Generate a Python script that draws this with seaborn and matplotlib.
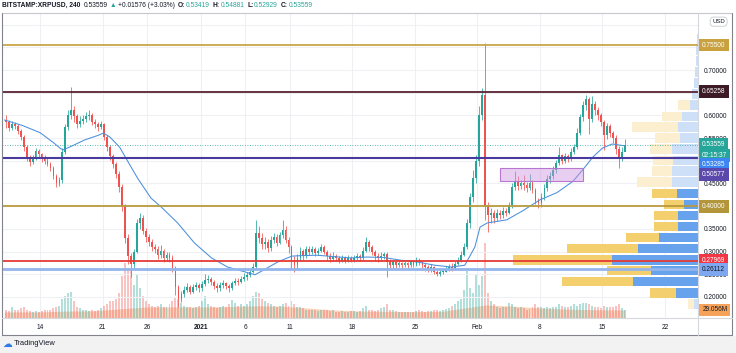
import matplotlib
matplotlib.use("Agg")
import matplotlib.pyplot as plt
import matplotlib.dates as mdates
import numpy as np
import pandas as pd
import seaborn as sns
from matplotlib.lines import Line2D
from matplotlib.patches import Rectangle
from matplotlib.transforms import blended_transform_factory, offset_copy

# ---------------------------------------------------------------- data
# 8h candles, BITSTAMP:XRPUSD, first candle starts 2020-12-10 00:00
first_open = 0.590
close = [
    0.585, 0.572, 0.580,  0.576, 0.566, 0.552,  0.530, 0.506, 0.498,  0.506, 0.522, 0.514,  # Dec 10-13
    0.505, 0.500, 0.494,  0.484, 0.466, 0.450,  0.458, 0.520, 0.575,  0.600, 0.612, 0.598,  # Dec 14-17
    0.582, 0.588, 0.592,  0.598, 0.602, 0.586,  0.580, 0.574, 0.580,  0.552, 0.530, 0.510,  # Dec 18-21
    0.492, 0.472, 0.442,  0.400, 0.330, 0.290,  0.272, 0.300, 0.362,  0.374, 0.346, 0.332,  # Dec 22-25
    0.322, 0.310, 0.305,  0.292, 0.302, 0.286,  0.292, 0.286, 0.264,  0.222, 0.195, 0.206,  # Dec 26-29
    0.216, 0.222, 0.212,  0.222, 0.226, 0.219,  0.228, 0.238, 0.240,  0.234, 0.225, 0.220,  # Dec 30-Jan 2
    0.226, 0.231, 0.224,  0.220, 0.230, 0.236,  0.234, 0.240, 0.245,  0.248, 0.256, 0.266,  # Jan 3-6
    0.342, 0.330, 0.316,  0.322, 0.308, 0.326,  0.332, 0.320, 0.336,  0.348, 0.326, 0.310,  # Jan 7-10
    0.280, 0.270, 0.286,  0.302, 0.290, 0.306,  0.300, 0.306, 0.296,  0.302, 0.310, 0.300,  # Jan 11-14
    0.290, 0.284, 0.291,  0.285, 0.280, 0.286,  0.280, 0.286, 0.281,  0.286, 0.290, 0.285,  # Jan 15-18
    0.302, 0.322, 0.310,  0.300, 0.290, 0.286,  0.290, 0.294, 0.278,  0.270, 0.276, 0.270,  # Jan 19-22
    0.275, 0.270, 0.275,  0.270, 0.276, 0.271,  0.281, 0.276, 0.270,  0.265, 0.260, 0.266,  # Jan 23-26
    0.256, 0.250, 0.255,  0.256, 0.262, 0.266,  0.264, 0.272, 0.280,  0.292, 0.310, 0.362,  # Jan 27-30
    0.420, 0.462, 0.500,  0.600, 0.645, 0.400,  0.380, 0.386, 0.374,  0.386, 0.380, 0.390,  # Jan 31-Feb 3
    0.386, 0.402, 0.442,  0.456, 0.444, 0.450,  0.446, 0.440, 0.450,  0.436, 0.412, 0.406,  # Feb 4-7
    0.420, 0.440, 0.460,  0.466, 0.480, 0.496,  0.512, 0.500, 0.510,  0.505, 0.520, 0.530,  # Feb 8-11
    0.562, 0.596, 0.622,  0.636, 0.592, 0.626,  0.612, 0.600, 0.586,  0.556, 0.576, 0.562,  # Feb 12-15
    0.550, 0.526, 0.506,  0.520, 0.53559,                                                  # Feb 16-17
]
high = [
    0.600, 0.590, 0.588,  0.586, 0.580, 0.570,  0.556, 0.534, 0.512,  0.512, 0.528, 0.526,
    0.518, 0.512, 0.506,  0.498, 0.488, 0.470,  0.464, 0.528, 0.582,  0.612, 0.663, 0.620,
    0.604, 0.598, 0.600,  0.608, 0.612, 0.606,  0.592, 0.586, 0.588,  0.584, 0.556, 0.534,
    0.516, 0.498, 0.478,  0.448, 0.405, 0.338,  0.296, 0.306, 0.372,  0.386, 0.380, 0.352,
    0.338, 0.328, 0.316,  0.312, 0.314, 0.306,  0.300, 0.298, 0.292,  0.268, 0.226, 0.214,
    0.224, 0.230, 0.226,  0.228, 0.234, 0.230,  0.236, 0.250, 0.248,  0.244, 0.238, 0.230,
    0.232, 0.238, 0.234,  0.228, 0.236, 0.242,  0.242, 0.246, 0.252,  0.256, 0.262, 0.274,
    0.370, 0.356, 0.340,  0.332, 0.328, 0.334,  0.342, 0.338, 0.344,  0.370, 0.356, 0.332,
    0.314, 0.290, 0.294,  0.310, 0.306, 0.312,  0.312, 0.312, 0.310,  0.308, 0.316, 0.314,
    0.304, 0.296, 0.298,  0.294, 0.290, 0.292,  0.290, 0.292, 0.290,  0.292, 0.296, 0.294,
    0.310, 0.332, 0.326,  0.314, 0.304, 0.296,  0.298, 0.300, 0.298,  0.284, 0.282, 0.280,
    0.280, 0.278, 0.280,  0.278, 0.282, 0.280,  0.288, 0.286, 0.280,  0.274, 0.270, 0.272,
    0.268, 0.260, 0.260,  0.262, 0.268, 0.272,  0.274, 0.280, 0.288,  0.302, 0.320, 0.372,
    0.430, 0.480, 0.512,  0.620, 0.660, 0.760,  0.410, 0.396, 0.392,  0.394, 0.392, 0.398,
    0.396, 0.410, 0.452,  0.478, 0.466, 0.458,  0.468, 0.454, 0.472,  0.458, 0.440, 0.418,
    0.428, 0.448, 0.468,  0.476, 0.488, 0.502,  0.530, 0.516, 0.518,  0.516, 0.528, 0.536,
    0.572, 0.604, 0.632,  0.646, 0.640, 0.642,  0.632, 0.618, 0.606,  0.590, 0.584, 0.580,
    0.566, 0.556, 0.532,  0.530, 0.54881,
]
low = [
    0.572, 0.566, 0.568,  0.570, 0.560, 0.545,  0.522, 0.500, 0.488,  0.494, 0.502, 0.508,
    0.498, 0.494, 0.488,  0.478, 0.460, 0.442,  0.444, 0.452, 0.515,  0.568, 0.592, 0.585,
    0.572, 0.575, 0.580,  0.585, 0.590, 0.578,  0.572, 0.566, 0.570,  0.545, 0.522, 0.502,
    0.484, 0.462, 0.432,  0.390, 0.318, 0.272,  0.244, 0.262, 0.296,  0.350, 0.338, 0.322,
    0.312, 0.302, 0.296,  0.284, 0.286, 0.278,  0.280, 0.278, 0.256,  0.205, 0.178, 0.188,
    0.200, 0.210, 0.206,  0.208, 0.216, 0.212,  0.214, 0.224, 0.230,  0.226, 0.218, 0.212,
    0.214, 0.220, 0.218,  0.210, 0.216, 0.226,  0.226, 0.230, 0.236,  0.238, 0.244, 0.252,
    0.262, 0.318, 0.306,  0.306, 0.300, 0.302,  0.318, 0.312, 0.316,  0.330, 0.318, 0.296,
    0.262, 0.255, 0.262,  0.280, 0.282, 0.286,  0.292, 0.294, 0.290,  0.292, 0.298, 0.294,
    0.282, 0.276, 0.280,  0.280, 0.274, 0.276,  0.275, 0.276, 0.276,  0.278, 0.282, 0.280,
    0.282, 0.298, 0.302,  0.292, 0.282, 0.278,  0.280, 0.284, 0.245,  0.260, 0.264, 0.264,
    0.266, 0.264, 0.266,  0.264, 0.266, 0.266,  0.268, 0.270, 0.264,  0.258, 0.254, 0.256,
    0.250, 0.246, 0.247,  0.250, 0.254, 0.258,  0.258, 0.260, 0.270,  0.276, 0.290, 0.306,
    0.352, 0.410, 0.452,  0.488, 0.590, 0.370,  0.343, 0.362, 0.364,  0.368, 0.372, 0.374,
    0.378, 0.382, 0.396,  0.436, 0.436, 0.438,  0.436, 0.432, 0.436,  0.428, 0.404, 0.396,
    0.398, 0.414, 0.434,  0.452, 0.460, 0.474,  0.490, 0.492, 0.496,  0.498, 0.500, 0.514,
    0.526, 0.556, 0.588,  0.612, 0.560, 0.586,  0.602, 0.590, 0.576,  0.524, 0.548, 0.552,
    0.540, 0.516, 0.484,  0.500, 0.52929,
]
volume_m = [
    30, 25, 40,  28, 30, 35,  40, 30, 25,  20, 25, 22,  25, 30, 28,  30, 35, 40,   # Dec 10-15
    45, 70, 80,  90, 95, 60,  40, 35, 30,  30, 25, 28,  25, 30, 35,  45, 50, 60,   # Dec 16-21
    60, 70, 90,  150, 200, 180,  170, 120, 160,  110, 80, 60,  50, 45, 40,  45, 50, 40,  # Dec 22-27
    40, 50, 60,  75, 70, 55,  45, 40, 40,  35, 40, 45,  60, 80, 50,  45, 40, 35,   # Dec 28-Jan 2
    40, 45, 40,  50, 65, 55,  45, 50, 45,  50, 60, 80,  95, 90, 70,  60, 55, 50,   # Jan 3-8
    45, 40, 45,  50, 55, 45,  60, 50, 40,  40, 35, 30,  30, 28, 30,  25, 30, 28,   # Jan 9-14
    30, 25, 28,  22, 20, 25,  22, 20, 24,  25, 22, 25,  35, 45, 30,  28, 25, 30,   # Jan 15-20
    35, 40, 50,  30, 28, 25,  22, 20, 22,  20, 22, 20,  25, 28, 25,  22, 25, 24,   # Jan 21-26
    28, 30, 25,  28, 32, 35,  45, 50, 60,  70, 100, 170,  110, 90, 160,  120, 150, 270,  # Jan 27-Feb 1
    90, 60, 50,  40, 35, 38,  40, 55, 50,  40, 35, 38,  35, 30, 32,  40, 50, 40,   # Feb 2-7
    38, 35, 40,  35, 38, 40,  50, 45, 40,  40, 45, 50,  45, 50, 55,  55, 50, 45,   # Feb 8-13
    40, 38, 35,  45, 40, 38,  40, 45, 50,  35, 30,                                  # Feb 14-17
]

# moving average line (blue)
ma_time = ["2020-12-10 00:00", "2020-12-12 00:00", "2020-12-14 00:00", "2020-12-15 12:00",
           "2020-12-16 07:00", "2020-12-16 14:00", "2020-12-17 12:00", "2020-12-19 00:00",
           "2020-12-20 12:00", "2020-12-21 02:00", "2020-12-21 19:00", "2020-12-22 22:00",
           "2020-12-23 19:00", "2020-12-24 22:00", "2020-12-26 10:00", "2020-12-27 14:00",
           "2020-12-29 10:00", "2020-12-31 07:00", "2021-01-02 05:00", "2021-01-04 00:00",
           "2021-01-06 00:00", "2021-01-07 02:00", "2021-01-07 22:00", "2021-01-09 17:00",
           "2021-01-11 05:00", "2021-01-12 05:00", "2021-01-14 00:00", "2021-01-17 19:00",
           "2021-01-19 14:00", "2021-01-21 12:00", "2021-01-23 10:00", "2021-01-25 07:00",
           "2021-01-27 05:00", "2021-01-29 02:00", "2021-01-30 14:00", "2021-01-31 17:00",
           "2021-02-01 07:00", "2021-02-02 02:00", "2021-02-04 07:00", "2021-02-06 02:00",
           "2021-02-08 00:00", "2021-02-09 22:00", "2021-02-11 17:00", "2021-02-12 19:00",
           "2021-02-13 22:00", "2021-02-15 00:00", "2021-02-16 02:00", "2021-02-17 12:00"]
ma_value = [0.590, 0.578, 0.562, 0.540, 0.527, 0.524, 0.532, 0.546,
            0.556, 0.561, 0.553, 0.530, 0.500, 0.462, 0.418, 0.398,
            0.363, 0.319, 0.286, 0.266, 0.255, 0.249, 0.258, 0.278,
            0.290, 0.291, 0.292, 0.286, 0.288, 0.287, 0.281, 0.277,
            0.270, 0.266, 0.270, 0.310, 0.354, 0.363, 0.370, 0.390,
            0.414, 0.430, 0.455, 0.480, 0.508, 0.528, 0.537, 0.533]

# volume moving average (orange band), millions
vma_time = ["2020-12-10 00:00", "2020-12-14 00:00", "2020-12-17 00:00", "2020-12-20 00:00",
            "2020-12-23 00:00", "2020-12-26 00:00", "2020-12-29 00:00", "2021-01-01 00:00",
            "2021-01-04 00:00", "2021-01-07 00:00", "2021-01-10 00:00", "2021-01-13 00:00",
            "2021-01-16 00:00", "2021-01-19 00:00", "2021-01-22 00:00", "2021-01-25 00:00",
            "2021-01-28 00:00", "2021-01-31 00:00", "2021-02-02 00:00", "2021-02-05 00:00",
            "2021-02-08 00:00", "2021-02-11 00:00", "2021-02-14 00:00", "2021-02-17 12:00"]
vma_value = [22, 22, 25, 26, 33, 40, 40, 40, 41, 44, 43, 36,
             29, 25, 24, 23, 24, 38, 47, 43, 36, 32, 30, 29.056]

# visible-range volume profile (price bin centres, up / down volume)
prof_price = [0.185, 0.209, 0.234, 0.258, 0.282, 0.307, 0.331, 0.355, 0.380, 0.404, 0.428, 0.453,
              0.477, 0.501, 0.526, 0.550, 0.574, 0.598, 0.623, 0.647, 0.671, 0.696, 0.720, 0.744, 0.768]
prof_up = [16, 88, 260, 188, 344, 240, 156, 80, 80, 56, 84, 104,
           104, 100, 104, 72, 80, 64, 32, 24, 16, 12, 10, 8, 6]
prof_down = [24, 104, 284, 176, 396, 284, 132, 96, 96, 80, 100, 140,
             80, 80, 88, 100, 184, 80, 48, 0, 0, 0, 0, 0, 0]
value_area = (0.20, 0.44)

# horizontal levels drawn on the chart
levels = [0.75500, 0.65258, 0.50577, 0.40000, 0.27969, 0.26112]
level_colors = ["#c9a646", "#5a2231", "#4a3a9e", "#b89a3e", "#e53935", "#93b5ec"]
level_widths = [1.3, 1.3, 1.5, 1.3, 1.3, 2.0]
level_tag_bg = ["#c9a23f", "#3d1b26", "#5a48ad", "#b4963a", "#f23645", "#7fa7ef"]
level_tag_fg = ["white", "white", "white", "white", "white", "#131722"]

# purple rectangle drawing
box_start, box_end = "2021-02-03 12:00", "2021-02-12 21:00"
box_low, box_high = 0.455, 0.484

last_price = 0.53559
ma_last = 0.53285
countdown = "02:15:37"
vol_ma_last = 29.056

tick_dates = ["2020-12-14", "2020-12-21", "2020-12-26", "2021-01-01", "2021-01-06", "2021-01-11",
              "2021-01-18", "2021-01-25", "2021-02-01", "2021-02-08", "2021-02-15", "2021-02-22"]
tick_labels = ["14", "21", "26", "2021", "6", "11", "18", "25", "Feb", "8", "15", "22"]
price_ticks = [0.20, 0.25, 0.30, 0.35, 0.40, 0.45, 0.50, 0.55, 0.60, 0.65, 0.70, 0.75, 0.80]
# tick labels that sit fully under a price tag are left blank
hidden_ticks = [0.40, 0.50, 0.65, 0.75, 0.80]


def to_num(strings):
    return mdates.date2num(pd.to_datetime(strings, format="mixed").to_pydatetime())


# ---------------------------------------------------------------- style
sns.set_theme(style="white")
plt.rcParams["font.family"] = ["Liberation Sans", "DejaVu Sans"]
UP, DOWN = "#26a69a", "#ef5350"
TXT = "#131722"
FS = 4.7

W, H = 736, 353
fig = plt.figure(figsize=(W / 100, H / 100), dpi=100, facecolor="white")


def fx(x):
    return x / W


def fy(y):
    return 1 - y / H


ax = fig.add_axes([fx(2), fy(318), fx(696), 305 / H])
axv = ax.twinx()
axp = ax.twiny()
axv.set_zorder(1)
axp.set_zorder(2)
ax.set_zorder(3)
for a in (ax, axv, axp):
    a.patch.set_visible(False)
    for s in a.spines.values():
        s.set_visible(False)

n = min(len(close), len(high), len(low), len(volume_m))
close_a = np.array(close[:n])
open_a = np.concatenate([[first_open], close_a[:-1]])
high_a = np.array(high[:n])
low_a = np.array(low[:n])
t = pd.date_range("2020-12-10 04:00", periods=n, freq="8h")
xs = mdates.date2num(t.to_pydatetime())
up = close_a >= open_a
cols = np.where(up, UP, DOWN)

x_left, x_right = to_num(["2020-12-09 17:40", "2021-02-25 17:00"])

# volume pane
axv.bar(xs, volume_m[:n], width=0.22, color=cols, alpha=0.35, linewidth=0, zorder=3)
axv.fill_between(to_num(vma_time), 0, vma_value, color="#f6b48a", alpha=0.55, linewidth=0, zorder=2)
axv.set_ylim(0, 1100)
axv.set_yticks([])
axv.tick_params(right=False, labelright=False)
for d in to_num(tick_dates):
    axv.axvline(d, color="#eef0f4", lw=0.8, zorder=0)

# volume profile
axp.set_xlim(2784, 0)
axp.set_xticks([])
axp.tick_params(top=False, labeltop=False)
for p in price_ticks:
    axp.axhline(p, color="#eef0f4", lw=0.8, zorder=0)
pp = np.array(prof_price)
inside = (pp > value_area[0]) & (pp < value_area[1])
blue_c = np.where(inside, "#66a3ec", "#cde0f7")
yel_c = np.where(inside, "#f4cf6e", "#fcefd0")
axp.barh(pp, prof_up, height=0.021, left=0, color=blue_c, linewidth=0, zorder=2)
axp.barh(pp, prof_down, height=0.021, left=prof_up, color=yel_c, linewidth=0, zorder=2)

# candles
ax.vlines(xs, low_a, high_a, colors=cols, lw=0.55, zorder=4)
body = np.maximum(np.abs(close_a - open_a), 0.0012)
ax.bar(xs, body, bottom=np.minimum(open_a, close_a), width=0.2, color=cols, linewidth=0, zorder=5)

sns.lineplot(x=to_num(ma_time), y=ma_value, ax=ax, color="#4a8fdc", lw=0.75, zorder=6)

for lv, c, lw in zip(levels, level_colors, level_widths):
    ax.axhline(lv, color=c, lw=lw, zorder=7)
ax.axhline(last_price, color=UP, lw=0.6, ls=(0, (1, 2)), zorder=6)

b0, b1 = to_num([box_start, box_end])
ax.add_patch(Rectangle((b0, box_low), b1 - b0, box_high - box_low,
                       facecolor=(0.80, 0.58, 0.88, 0.45), edgecolor="#b777d0", lw=0.8, zorder=8))

ax.set_xlim(x_left, x_right)
ax.set_ylim(0.1537, 0.8256)

# axes ticks
ax.yaxis.tick_right()
ax.set_yticks(price_ticks)
ax.set_yticklabels(["" if p in hidden_ticks else f"{p:.5f}" for p in price_ticks])
ax.tick_params(axis="y", right=False, length=0, pad=4.0, labelsize=FS, labelcolor=TXT)
ax.set_xticks(to_num(tick_dates))
ax.set_xticklabels(tick_labels)
ax.tick_params(axis="x", bottom=False, length=0, pad=4.5, labelsize=FS, labelcolor=TXT)
ax.get_xticklabels()[3].set_fontweight("bold")
ax.set_xlabel("")
ax.set_ylabel("")

# price tags on the right axis
trp = blended_transform_factory(ax.transAxes, ax.transData)


def tag(a, tr, val, text, bg, fg="white", drop=0):
    tt = offset_copy(tr, fig=fig, x=0, y=-drop, units="dots")
    a.text(1.006, val, text, transform=tt, fontsize=FS, color=fg, va="center", ha="left",
           clip_on=False, zorder=20,
           bbox=dict(boxstyle="square,pad=0.45", fc=bg, ec="none"))


for lv, bg, fg in zip(levels, level_tag_bg, level_tag_fg):
    if lv == levels[2]:
        continue
    tag(ax, trp, lv, f"{lv:.5f}", bg, fg)
tag(ax, trp, last_price, f"{last_price:.5f}", UP)
tag(ax, trp, last_price, countdown, UP, drop=10.5)
tag(ax, trp, last_price, f"{ma_last:.5f}", "#3b86f2", drop=20)
tag(ax, trp, last_price, f"{levels[2]:.5f}", level_tag_bg[2], drop=29.5)
trv = blended_transform_factory(axv.transAxes, axv.transData)
tag(axv, trv, vol_ma_last, f"{vol_ma_last:.3f}M", "#f6a25a", fg=TXT)

ax.text(1.0205, 0.8065, "USD", transform=trp, fontsize=4.3, color=TXT, va="center", ha="left",
        clip_on=False, zorder=21,
        bbox=dict(boxstyle="round,pad=0.35,rounding_size=0.6", fc="white", ec="#c8cad0", lw=0.6))

# frame, separators, bottom strip
fig.add_artist(Rectangle((0, 0), 1, fy(336), transform=fig.transFigure,
                         color="#f2f2f3", zorder=-5))
frame = [((2, 13), (732, 13), "#c5c7cd"), ((2, 13), (2, 335), "#80838c"),
         ((732, 13), (732, 335), "#80838c"), ((2, 335), (732, 335), "#80838c"),
         ((698, 13), (698, 335), "#d6d8de"), ((2, 318), (732, 318), "#d6d8de")]
for (x0, y0), (x1, y1), c in frame:
    fig.add_artist(Line2D([fx(x0), fx(x1)], [fy(y0), fy(y1)], color=c, lw=0.8,
                          transform=fig.transFigure, zorder=30))

# header legend
fig.canvas.draw()
rend = fig.canvas.get_renderer()
header = [("BITSTAMP:XRPUSD, 240", TXT, "bold", 3.5),
          ("0.53559", TXT, "normal", 2.5),
          ("\u25b2", UP, "normal", 1.5),
          ("+0.01576 (+3.03%)", TXT, "normal", 3.0),
          ("O:", TXT, "bold", 0.6), ("0.53419", UP, "normal", 3.0),
          ("H:", TXT, "bold", 0.6), ("0.54881", UP, "normal", 3.0),
          ("L:", TXT, "bold", 0.6), ("0.52929", UP, "normal", 3.0),
          ("C:", TXT, "bold", 0.6), ("0.53559", UP, "normal", 3.0)]
hx = 1.5
for s, c, w, gap in header:
    tx = fig.text(fx(hx), fy(5.5), s, color=c, fontsize=4.8, fontweight=w, va="center", ha="left")
    hx += tx.get_window_extent(renderer=rend).width + gap

fig.text(fx(2), fy(343.5), "\u2601", color="#2f7be6", fontsize=7, va="center", ha="left",
         family="DejaVu Sans")
fig.text(fx(13.5), fy(343.5), "TradingView", color=TXT, fontsize=5.4, va="center", ha="left")

fig.savefig("out.png", dpi=100, facecolor="white")
